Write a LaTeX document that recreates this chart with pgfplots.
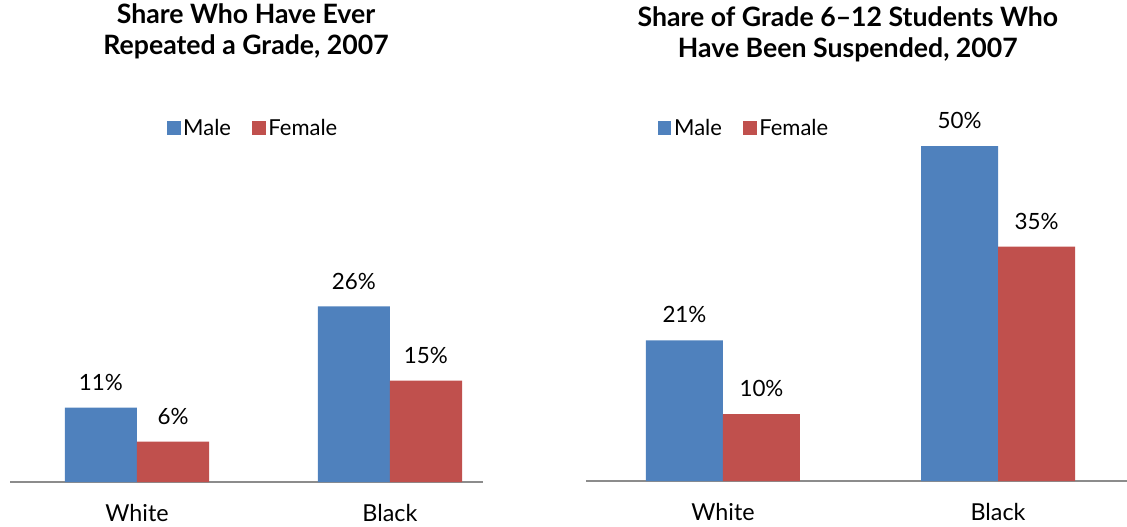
\documentclass[border=0pt]{standalone}
\usepackage{pgfplots}
\pgfplotsset{compat=1.18}
\usepackage{fontspec}
\setmainfont{Lato}
\definecolor{male}{HTML}{4F81BD}
\definecolor{female}{HTML}{C0504D}
\pgfplotsset{
  barpanel/.style={
    scale only axis, ybar=0pt, ymin=0,
    enlargelimits=false,
    axis x line=bottom, axis y line=none,
    x axis line style={-, draw=black!45, line width=1.4pt},
    xtick={0,1}, xticklabels={White,Black},
    major tick length=0pt,
    xticklabel style={font=\fontsize{17.5}{20}\selectfont, yshift=-13pt},
    nodes near coords={\pgfmathprintnumber{\pgfplotspointmeta}\%},
    /pgf/number format/assume math mode=true,
    every node near coord/.append style={anchor=center, yshift=19pt, text=black,
      font=\fontsize{16.8}{19}\selectfont},
    legend style={draw=none, fill=none, legend columns=2, anchor=center,
      font=\fontsize{16.5}{19}\selectfont,
      /tikz/every even column/.append style={column sep=14pt}},
    legend image code/.code={\fill[#1] (0pt,-5pt) rectangle (10pt,5pt);},
    title style={anchor=center, align=center, font=\bfseries\fontsize{20}{23.5}\selectfont},
  }
}
\begin{document}
\begin{tikzpicture}
\useasboundingbox (-7.5pt,-33pt) rectangle (837.75pt,361.5pt);
% left panel: grade repetition
\begin{axis}[barpanel, at={(0pt,0pt)}, anchor=south west,
  width=354.75pt, height=151.9pt, ymax=30,
  xmin=-0.502, xmax=1.368, bar width=0.285,
  title={Share Who Have Ever\\Repeated a Grade, 2007},
  title style={at={(0.499,2.185)}},
  legend style={at={(0.515,1.748)}}]
\addplot[fill=male, draw=none] coordinates {(0,11) (1,26)};
\addplot[fill=female, draw=none] coordinates {(0,6) (1,15)};
\legend{Male,Female}
\end{axis}
% right panel: suspensions
\begin{axis}[barpanel, at={(432pt,0.75pt)}, anchor=south west,
  width=405.75pt, height=301.5pt, ymax=60,
  xmin=-0.498, xmax=1.469, bar width=0.28,
  title={Share of Grade 6–12 Students Who\\Have Been Suspended, 2007},
  title style={at={(0.484,1.092)}},
  legend style={at={(0.293,0.878)}}]
\addplot[fill=male, draw=none] coordinates {(0,21) (1,50)};
\addplot[fill=female, draw=none] coordinates {(0,10) (1,35)};
\legend{Male,Female}
\end{axis}
\end{tikzpicture}
\end{document}
